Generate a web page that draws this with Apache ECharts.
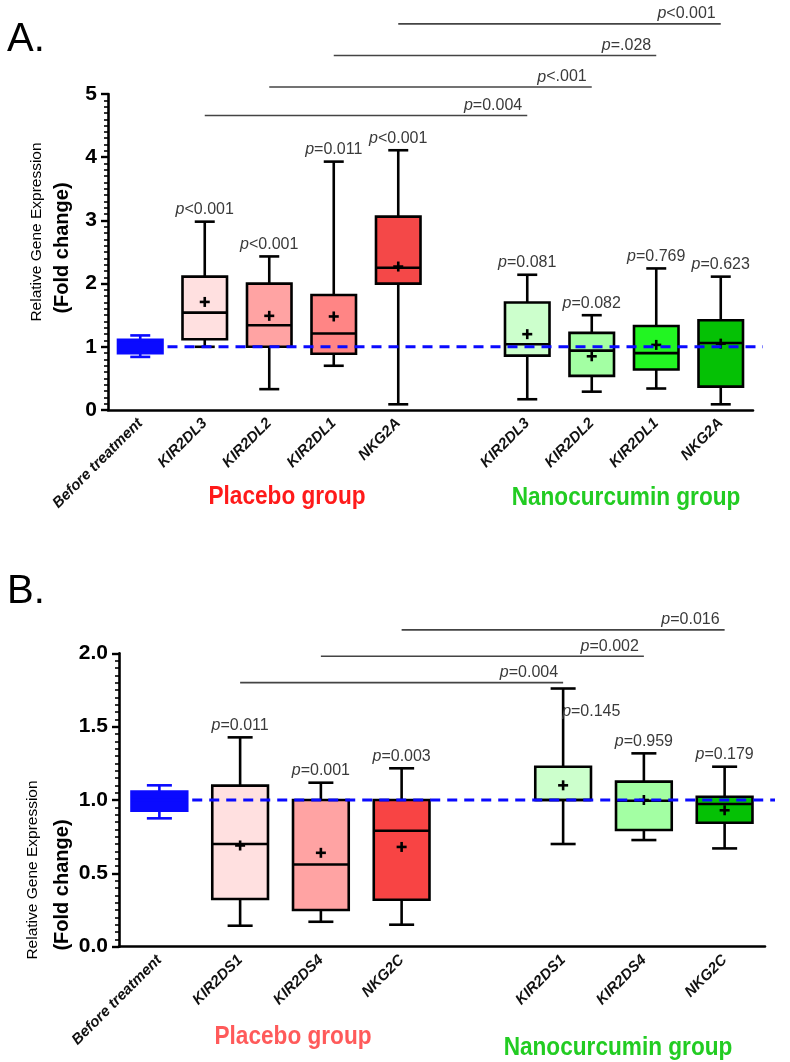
<!DOCTYPE html>
<html><head><meta charset="utf-8">
<script src="https://cdn.jsdelivr.net/npm/echarts@6/dist/echarts.min.js"></script>
<style>html,body{margin:0;padding:0;background:#fff}#c{width:790px;height:1062px}</style>
</head><body><div id="c"></div>
<script>
// ---------- Panel A data ----------
const catsA = ['Before treatment','KIR2DL3','KIR2DL2','KIR2DL1','NKG2A','','KIR2DL3','KIR2DL2','KIR2DL1','NKG2A'];
const minA  = [0.84, 1.00, 0.33, 0.70, 0.09, null, 0.17, 0.29, 0.34, 0.09];
const q1A   = [0.90, 1.12, 1.00, 0.89, 2.00, null, 0.86, 0.54, 0.64, 0.37];
const medA  = [1.00, 1.54, 1.34, 1.21, 2.25, null, 1.04, 0.94, 0.90, 1.06];
const q3A   = [1.11, 2.11, 2.00, 1.82, 3.06, null, 1.70, 1.22, 1.33, 1.42];
const maxA  = [1.18, 2.98, 2.43, 3.93, 4.11, null, 2.14, 1.50, 2.24, 2.11];
const meanA = [1.00, 1.71, 1.49, 1.48, 2.27, null, 1.20, 0.85, 1.03, 1.05];
const pA    = ['', 'p<0.001','p<0.001','p=0.011','p<0.001','', 'p=0.081','p=0.082','p=0.769','p=0.623'];
const brFromA = [1, 2, 3, 4];
const brToA   = [6, 7, 8, 9];
const brYA    = [4.66, 5.11, 5.61, 6.11];
const brPA    = ['p=0.004', 'p<.001', 'p=.028', 'p<0.001'];
const ticksA  = [0, 1, 2, 3, 4, 5];

// ---------- Panel B data ----------
const catsB = ['Before treatment','KIR2DS1','KIR2DS4','NKG2C','','KIR2DS1','KIR2DS4','NKG2C'];
const minB  = [0.875, 0.143, 0.17, 0.15, null, 0.70, 0.727, 0.67];
const q1B   = [0.927, 0.325, 0.25, 0.32, null, 1.00, 0.795, 0.845];
const medB  = [1.00, 0.70, 0.56, 0.79, null, 1.00, 0.995, 0.973];
const q3B   = [1.057, 1.098, 1.00, 1.00, null, 1.227, 1.125, 1.022];
const maxB  = [1.10, 1.427, 1.118, 1.216, null, 1.76, 1.318, 1.227];
const meanB = [1.00, 0.69, 0.64, 0.68, null, 1.10, 1.00, 0.93];
const pB    = ['', 'p=0.011','p=0.001','p=0.003','', 'p=0.145','p=0.959','p=0.179'];
const brFromB = [1, 2, 3];
const brToB   = [5, 6, 7];
const brYB    = [1.80, 1.98, 2.16];
const brPB    = ['p=0.004', 'p=0.002', 'p=0.016'];
const ticksB  = [0, 0.5, 1.0, 1.5, 2.0];
const baseline = 1;

// ---------- styles ----------
const BLUE = '#0a0aff';
const fillsA = [BLUE,'#ffe0e0','#ffa3a3','#ff8585','#f44848',null,'#ccffcc','#a3ffa3','#22f522','#05c105'];
const fillsB = [BLUE,'#ffe0e0','#ffa3a3','#f84444',null,'#ccffcc','#a3ffa3','#05c105'];
const labelRight = { B: [5] };
const FONT = '"Liberation Sans", Arial, sans-serif';
const PFS = 16;

function boxData(mins,q1s,meds,q3s,maxs,means){
  const out=[];
  mins.forEach((v,i)=>{ if(v!==null) out.push([i,mins[i],q1s[i],meds[i],q3s[i],maxs[i],means[i]]); });
  return out;
}
function pRich(t){ return t ? '{i|p}' + t.slice(1) : ''; }
const richP = { i:{fontStyle:'italic', fontSize:PFS, fontFamily:FONT, fill:'#3a3a3a'} };

function makeBoxRender(fills, pl, rightIdx){
  return function(params, api){
    const ci = api.value(0);
    const band = api.size([1,0])[0];
    const half = band*0.345, cap = band*0.155;
    const C = v => api.coord([ci, v]);
    const x = C(0)[0];
    const yMin=C(api.value(1))[1], yQ1=C(api.value(2))[1], yMed=C(api.value(3))[1],
          yQ3=C(api.value(4))[1], yMax=C(api.value(5))[1], yMean=C(api.value(6))[1];
    const isBase = ci === 0;
    const stroke = isBase ? BLUE : '#000';
    const lw = 2.6;
    const ls = {stroke: stroke, lineWidth: lw};
    const ch = [
      {type:'line', shape:{x1:x,y1:yQ1,x2:x,y2:yMin}, style:ls},
      {type:'line', shape:{x1:x,y1:yQ3,x2:x,y2:yMax}, style:ls},
      {type:'line', shape:{x1:x-cap,y1:yMin,x2:x+cap,y2:yMin}, style:ls},
      {type:'line', shape:{x1:x-cap,y1:yMax,x2:x+cap,y2:yMax}, style:ls},
      {type:'rect', shape:{x:x-half,y:yQ3,width:2*half,height:yQ1-yQ3}, style:{fill:fills[ci], stroke:stroke, lineWidth:lw}},
      {type:'line', shape:{x1:x-half,y1:yMed,x2:x+half,y2:yMed}, style:ls}
    ];
    if(!isBase){
      ch.push({type:'line', shape:{x1:x-5,y1:yMean,x2:x+5,y2:yMean}, style:{stroke:'#000',lineWidth:2.6}});
      ch.push({type:'line', shape:{x1:x,y1:yMean-5,x2:x,y2:yMean+5}, style:{stroke:'#000',lineWidth:2.6}});
    }
    const t = pl[ci];
    if(t){
      const right = rightIdx.indexOf(ci) >= 0;
      ch.push({type:'text', style:{
        text: pRich(t), x: right ? x-1 : x, y: right ? yMax+23 : yMax-4,
        align: right ? 'left' : 'center', verticalAlign: right ? 'middle' : 'bottom',
        fill:'#3a3a3a', font: PFS+'px '+FONT, rich: richP
      }});
    }
    return {type:'group', children: ch};
  };
}

function bracketRender(labels){
  return function(params, api){
    const y = api.value(2);
    const p1 = api.coord([api.value(0), y]);
    const p2 = api.coord([api.value(1), y]);
    return {type:'group', children:[
      {type:'line', shape:{x1:p1[0],y1:p1[1],x2:p2[0],y2:p2[1]}, style:{stroke:'#444',lineWidth:1.6}},
      {type:'text', style:{text:pRich(labels[params.dataIndex]), x:p2[0]-5, y:p1[1]-2,
        align:'right', verticalAlign:'bottom', fill:'#3a3a3a', font: PFS+'px '+FONT, rich: richP}}
    ]};
  };
}

function dashRender(nCats){
  return function(params, api){
    const band = api.size([1,0])[0];
    const a = api.coord([0, api.value(1)]);
    const b = api.coord([nCats-1, api.value(1)]);
    return {type:'line', shape:{x1:a[0]+band*0.345+5, y1:a[1], x2:b[0]+band/2+10, y2:b[1]},
      style:{stroke:BLUE, lineWidth:3, lineDash:[10,7]}};
  };
}

function xAxisCfg(cats, gi){
  return {type:'category', gridIndex:gi, data:cats,
    axisLine:{lineStyle:{color:'#000', width:2.6}},
    axisTick:{alignWithLabel:true, interval:0, length:7, lineStyle:{color:'#000', width:2.6}},
    axisLabel:{interval:0, rotate:45, margin:11, color:'#111', fontSize:15, fontWeight:'bold', fontStyle:'italic', fontFamily:FONT}};
}
function yAxisCfg(ticks, gi, dec){
  return {type:'value', gridIndex:gi, min:ticks[0], max:ticks[ticks.length-1], interval:ticks[1]-ticks[0],
    axisLine:{show:true, lineStyle:{color:'#000', width:2.6}},
    axisTick:{show:true, length:7, lineStyle:{color:'#000', width:2.4}},
    minorTick:{show:true, splitNumber:10, length:4, lineStyle:{color:'#000', width:1.6}},
    splitLine:{show:false},
    axisLabel:{margin:11, color:'#000', fontSize:21, fontWeight:'bold', fontFamily:FONT,
      formatter: v => dec ? v.toFixed(1) : String(v)}};
}

const chart = echarts.init(document.getElementById('c'), null, {renderer:'canvas'});
const txt = (x,y,text,font,fill,rot,sx) => ({type:'text', x:x, y:y, rotation:rot||0, scaleX: sx||1,
  style:{text:text, font:font, fill:fill, align:'center', verticalAlign:'middle'}});

chart.setOption({
  backgroundColor:'#fff',
  animation:false,
  grid:[
    {left:108, right:37, top:94, bottom:652},
    {left:119, right:25, top:653.3, bottom:115.3}
  ],
  xAxis:[xAxisCfg(catsA,0), xAxisCfg(catsB,1)],
  yAxis:[yAxisCfg(ticksA,0,false), yAxisCfg(ticksB,1,true)],
  series:[
    {type:'custom', xAxisIndex:0, yAxisIndex:0, clip:false, z:2,
     encode:{x:0, y:[1,2,3,4,5]},
     renderItem: makeBoxRender(fillsA, pA, []),
     data: boxData(minA,q1A,medA,q3A,maxA,meanA)},
    {type:'custom', xAxisIndex:0, yAxisIndex:0, clip:false, z:3,
     encode:{x:0, y:1}, renderItem: dashRender(catsA.length), data:[[0, baseline]]},
    {type:'custom', xAxisIndex:0, yAxisIndex:0, clip:false, z:3,
     encode:{x:[0,1], y:2}, renderItem: bracketRender(brPA),
     data: brFromA.map((f,i)=>[f, brToA[i], brYA[i]])},
    {type:'custom', xAxisIndex:1, yAxisIndex:1, clip:false, z:2,
     encode:{x:0, y:[1,2,3,4,5]},
     renderItem: makeBoxRender(fillsB, pB, labelRight.B),
     data: boxData(minB,q1B,medB,q3B,maxB,meanB)},
    {type:'custom', xAxisIndex:1, yAxisIndex:1, clip:false, z:3,
     encode:{x:0, y:1}, renderItem: dashRender(catsB.length), data:[[0, baseline]]},
    {type:'custom', xAxisIndex:1, yAxisIndex:1, clip:false, z:3,
     encode:{x:[0,1], y:2}, renderItem: bracketRender(brPB),
     data: brFromB.map((f,i)=>[f, brToB[i], brYB[i]])}
  ],
  graphic:[
    txt(26, 40, 'A.', '40px '+FONT, '#000'),
    txt(26, 592, 'B.', '40px '+FONT, '#000'),
    txt(37, 232, 'Relative Gene Expression', '15.5px '+FONT, '#000', Math.PI/2),
    txt(62, 248, '(Fold change)', 'bold 20px '+FONT, '#000', Math.PI/2),
    txt(33, 870, 'Relative Gene Expression', '15.5px '+FONT, '#000', Math.PI/2),
    txt(62, 885, '(Fold change)', 'bold 20px '+FONT, '#000', Math.PI/2),
    txt(287, 497, 'Placebo group', 'bold 26px '+FONT, '#ff1a1a', 0, 0.87),
    txt(626, 498, 'Nanocurcumin group', 'bold 26px '+FONT, '#22cc22', 0, 0.87),
    txt(293, 1037, 'Placebo group', 'bold 26px '+FONT, '#ff5a5a', 0, 0.87),
    txt(618, 1048, 'Nanocurcumin group', 'bold 26px '+FONT, '#22cc22', 0, 0.87)
  ]
});
</script></body></html>
